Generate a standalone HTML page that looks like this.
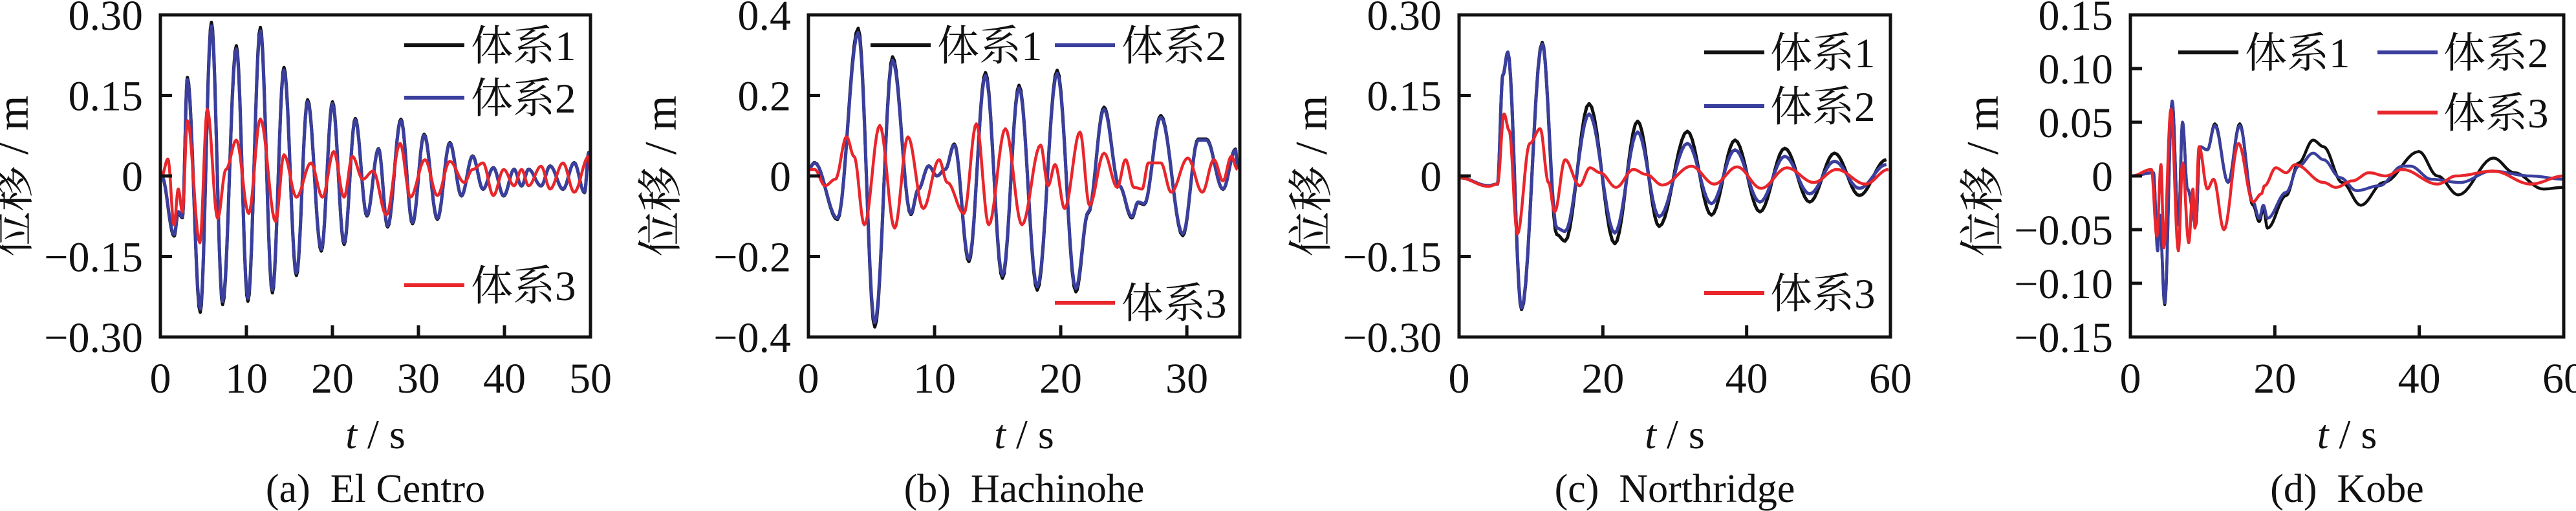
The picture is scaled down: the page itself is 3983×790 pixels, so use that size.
<!DOCTYPE html>
<html><head><meta charset="utf-8"><style>
html,body{margin:0;padding:0;background:#fff;}
svg{display:block;}
text{font-family:"Liberation Serif","Noto Serif CJK SC",serif;fill:#111;}
.cj{font-family:"Liberation Serif","Noto Serif CJK SC","Noto Sans CJK SC",serif;}
</style></head><body>
<svg id="s" width="3983" height="790" viewBox="0 0 3983 790" xmlns="http://www.w3.org/2000/svg"></svg>
<script>
const S=document.getElementById('s');let H='';
const T=23,B=521;
function path(pts,off,color,w){
 const p=pts.map(a=>[a[0]/1.56+off,a[1]/1.985]);
 let d='M'+p[0][0].toFixed(1)+','+p[0][1].toFixed(1);
 for(let i=1;i<p.length;i++){const a=p[i-1],b=p[i];
  for(let k=1;k<=10;k++){const f=k/10,g=(1-Math.cos(Math.PI*f))/2;
   d+='L'+(a[0]+(b[0]-a[0])*f).toFixed(1)+','+(a[1]+(b[1]-a[1])*g).toFixed(1);}}
 H+=`<path d="${d}" fill="none" stroke="${color}" stroke-width="${w}" stroke-linejoin="round"/>`;
}
function panel(o){
 const {L,R,xmax,xt,yl,cap,leg}=o;
 const sx=v=>L+(R-L)*v/xmax;
 o.series.forEach(s=>path(s.p,o.off,s.c,s.w||5));
 H+=`<rect x="${L}" y="${T}" width="${R-L}" height="${B-T}" fill="none" stroke="#111" stroke-width="5"/>`;
 xt.forEach(v=>{const x=sx(v); if(v>0&&v<xmax) H+=`<line x1="${x}" y1="${B}" x2="${x}" y2="${B-18}" stroke="#111" stroke-width="5"/>`;
  H+=`<text x="${x}" y="607" font-size="66" text-anchor="middle">${v}</text>`;});
 const n=yl.length;
 yl.forEach((l,i)=>{const y=T+(B-T)*i/(n-1); if(i>0&&i<n-1) H+=`<line x1="${L}" y1="${y}" x2="${L+18}" y2="${y}" stroke="#111" stroke-width="5"/>`;
  H+=`<text x="${L-27}" y="${y+23}" font-size="66" text-anchor="end">${l}</text>`;});
 const cx=(L+R)/2;
 H+=`<text x="${cx}" y="693" font-size="64" text-anchor="middle"><tspan font-style="italic">t</tspan> / s</text>`;
 H+=`<text x="${cx}" y="776" font-size="62" text-anchor="middle" xml:space="preserve">${cap}</text>`;
 H+=`<text class="cj" transform="translate(${L-205},272) rotate(-90)" font-size="70" text-anchor="middle" xml:space="preserve">位移 / m</text>`;
 leg.forEach(g=>{H+=`<line x1="${g[0]}" y1="${g[2]}" x2="${g[0]+93}" y2="${g[2]}" stroke="${g[3]}" stroke-width="6"/>`;
  H+=`<text class="cj" x="${g[1]}" y="${g[2]+23}" font-size="65">${g[4]}</text>`;});
}
const K='#111',BL='#3a3f9e',RD='#e8262b';
const aB=[[390,540],[420,720],[430,650],[440,665],[452,245],[483,948],[510,80],[537,925],[570,150],[598,915],[628,95],[657,890],[685,215],[715,838],[742,312],[775,765],[802,318],[830,745],[857,368],[885,660],[913,458],[935,693],[967,370],[995,683],[1023,415],[1055,670],[1085,440],[1113,600],[1140,480],[1165,580],[1190,515],[1215,600],[1240,520],[1258,570],[1275,520],[1305,570],[1327,510],[1358,580],[1385,500],[1410,590],[1420,470],[1425,510]];
const aBk=aB.map(p=>[p[0],540+(p[1]-540)*1.025]);
const aR=[[390,540],[405,488],[420,690],[430,580],[440,650],[452,370],[482,745],[500,335],[525,670],[545,520],[570,430],[600,655],[628,365],[665,680],[685,475],[715,605],[750,500],[778,605],[805,465],[830,605],[850,480],[875,550],[900,525],[932,660],[965,440],[990,605],[1025,490],[1055,600],[1085,495],[1120,560],[1140,520],[1165,500],[1190,600],[1215,520],[1240,570],[1258,520],[1275,570],[1305,510],[1327,580],[1358,500],[1385,590],[1420,480],[1425,530]];
panel({off:0,L:248,R:913,xmax:50,xt:[0,10,20,30,40,50],yl:['0.30','0.15','0','−0.15','−0.30'],cap:'(a)  El Centro',
 series:[{p:aBk,c:K},{p:aB,c:BL},{p:aR,c:RD,w:4.5}],
 leg:[[625,728,70,K,'体系1'],[625,728,151,BL,'体系2'],[625,728,441,RD,'体系3']]});
const bB=[[390,520],[405,500],[460,670],[510,100],[550,990],[593,185],[637,655],[655,580],[680,510],[700,540],[720,520],[742,445],[777,795],[817,232],[858,845],[898,270],[942,880],[990,225],[1035,885],[1065,650],[1103,335],[1140,570],[1170,665],[1185,620],[1200,625],[1240,360],[1293,718],[1330,430],[1350,430],[1390,580],[1420,460],[1425,520]];
const bBk=bB.map(p=>[p[0],540+(p[1]-540)*1.03]);
const bR=[[390,520],[405,520],[430,570],[455,550],[482,420],[500,480],[525,690],[562,385],[598,700],[630,420],[667,640],[705,490],[725,560],[765,655],[795,380],[825,690],[865,395],[905,690],[950,445],[968,570],[985,505],[1008,640],[1045,405],[1068,630],[1103,470],[1135,575],[1155,490],[1175,575],[1195,580],[1210,500],[1240,500],[1265,590],[1305,485],[1340,590],[1368,490],[1390,555],[1410,480],[1425,520]];
panel({off:1000,L:1250,R:1917,xmax:34.2,xt:[0,10,20,30],yl:['0.4','0.2','0','−0.2','−0.4'],cap:'(b)  Hachinohe',
 series:[{p:bBk,c:K},{p:bB,c:BL},{p:bR,c:RD,w:4.5}],
 leg:[[1346,1449,70,K,'体系1'],[1631,1734,70,BL,'体系2'],[1631,1734,468,RD,'体系3']]});
const cB=[[400,545],[470,570],[492,565],[505,230],[517,160],[550,945],[600,135],[635,700],[655,710],[713,350],[775,715],[830,405],[882,665],[950,440],[1008,625],[1065,460],[1125,620],[1185,480],[1245,595],[1305,495],[1365,578],[1430,505]];
const cBk=[[400,545],[470,570],[492,565],[505,230],[517,160],[550,950],[600,130],[635,720],[655,740],[713,318],[775,748],[830,372],[882,695],[950,403],[1008,660],[1065,430],[1125,650],[1185,455],[1245,620],[1305,470],[1365,600],[1430,490]];
const cR=[[400,545],[470,572],[492,565],[508,350],[520,400],[540,718],[570,440],[595,395],[615,560],[630,650],[655,490],[690,570],[715,515],[740,530],[778,575],[820,520],[850,535],[890,568],[960,510],[1015,565],[1070,512],[1128,578],[1190,515],[1255,560],[1310,520],[1380,565],[1435,520]];
panel({off:2000,L:2256,R:2923,xmax:60,xt:[0,20,40,60],yl:['0.30','0.15','0','−0.15','−0.30'],cap:'(c)  Northridge',
 series:[{p:cBk,c:K},{p:cB,c:BL},{p:cR,c:RD,w:4.5}],
 leg:[[2635,2737,81,K,'体系1'],[2635,2737,164,BL,'体系2'],[2635,2737,453,RD,'体系3']]});
const dR=[[478,540],[525,520],[538,725],[548,505],[555,760],[572,335],[590,770],[600,500],[615,745],[625,580],[630,700],[640,450],[660,580],[675,550],[700,705],[735,440],[770,620],[790,595],[798,570],[825,515],[850,530],[872,505],[940,560],[970,575],[1010,555],[1050,530],[1090,540],[1130,520],[1215,565],[1260,540],[1350,525],[1440,565],[1520,540]];
const dB=[[478,540],[530,530],[540,770],[545,660],[557,930],[575,310],[590,690],[600,375],[612,580],[632,690],[642,450],[660,460],[678,385],[710,560],[738,385],[770,620],[785,670],[795,630],[805,670],[850,590],[880,510],[915,470],[940,490],[980,545],[1020,585],[1075,570],[1130,510],[1150,510],[1200,550],[1270,560],[1345,525],[1440,540],[1520,550]];
const dBk=[[478,540],[530,530],[540,770],[545,660],[557,935],[575,310],[590,690],[600,375],[612,580],[632,690],[642,450],[660,460],[678,380],[710,560],[738,380],[770,630],[785,680],[795,640],[805,700],[850,600],[880,500],[915,430],[940,450],[985,560],[1030,630],[1085,560],[1170,465],[1215,540],[1265,598],[1350,485],[1400,530],[1470,580],[1520,575]];
panel({off:2990,L:3294,R:3964,xmax:60,xt:[0,20,40,60],yl:['0.15','0.10','0.05','0','−0.05','−0.10','−0.15'],cap:'(d)  Kobe',
 series:[{p:dBk,c:K,w:4.5},{p:dB,c:BL,w:4.5},{p:dR,c:RD,w:4.5}],
 leg:[[3368,3471,81,K,'体系1'],[3676,3778,81,BL,'体系2'],[3676,3778,174,RD,'体系3']]});
S.innerHTML=H;
</script>
</body></html>
